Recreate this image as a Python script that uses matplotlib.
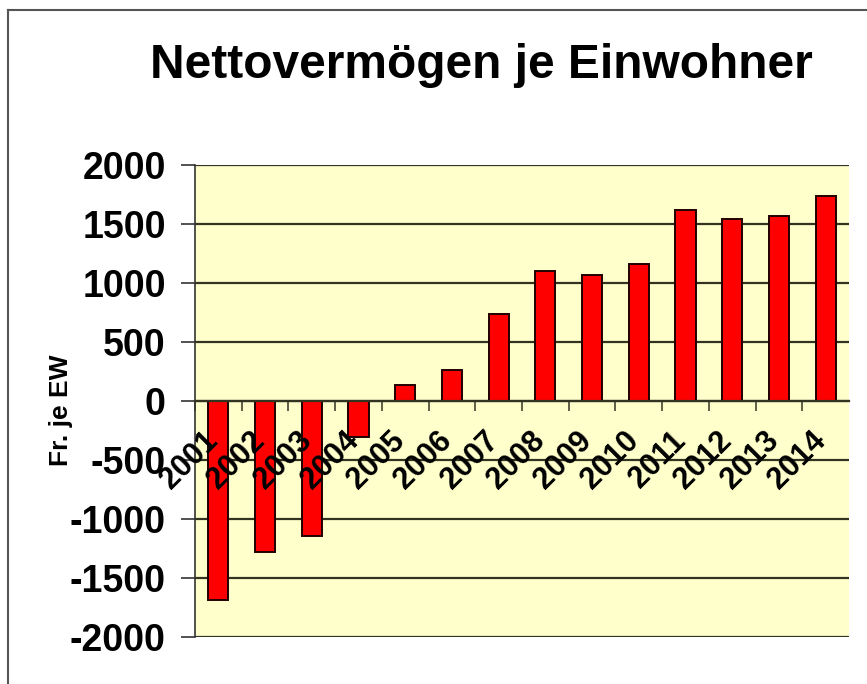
import matplotlib
matplotlib.use("Agg")
import matplotlib.pyplot as plt
import matplotlib.transforms as mtransforms
from matplotlib.lines import Line2D

years = ["2001", "2002", "2003", "2004", "2005", "2006", "2007",
         "2008", "2009", "2010", "2011", "2012", "2013", "2014"]
values = [-1685, -1280, -1140, -305, 135, 265, 740,
          1100, 1070, 1165, 1620, 1540, 1570, 1740]
yticks = [-2000, -1500, -1000, -500, 0, 500, 1000, 1500, 2000]

title = "Nettovermögen je Einwohner"
ylabel = "Fr. je EW"

plt.rcParams['font.family'] = ['Liberation Sans', 'DejaVu Sans']

W, H = 867, 684
fig = plt.figure(figsize=(W / 100, H / 100), dpi=100)
fig.patch.set_facecolor("white")

ax = fig.add_axes([195 / W, 1 - 637 / H, (849 - 195) / W, (637 - 165) / H])
ax.set_facecolor("#FFFFCC")

x = list(range(len(years)))
ax.set_axisbelow(True)
ax.yaxis.grid(True, color="#333322", linewidth=1.6)
ax.bar(x, values, width=0.43, color="#FF0000", edgecolor="#200000",
       linewidth=1.4, zorder=3)

ax.set_xlim(-0.5, len(years) - 0.5)
ax.set_ylim(-2000, 2000)
ax.set_yticks(yticks)
ax.set_yticklabels([str(v) for v in yticks], fontsize=27, fontweight="bold")
ax.tick_params(axis="y", length=10, width=1.2, pad=11, color="#333333")

for s in ["top", "right"]:
    ax.spines[s].set_visible(False)
ax.spines["left"].set_color("#333333")
ax.spines["left"].set_linewidth(1.2)
ax.spines["bottom"].set_position(("data", 0))
ax.spines["bottom"].set_color("#333322")
ax.spines["bottom"].set_linewidth(1.6)
ax.spines["bottom"].set_zorder(4)

# category boundary tick marks on the zero axis
ax.set_xticks([i + 0.5 for i in x[:-1]] + [-0.5])
ax.set_xticklabels([])
ax.tick_params(axis="x", length=7, width=1.2, color="#444433", direction="out")

offset = mtransforms.ScaledTranslation(6 / 100, -25 / 100, fig.dpi_scale_trans)
for xi, lab in zip(x, years):
    ax.text(xi, 0, lab, rotation=45, ha="right", va="top", fontsize=22,
            fontweight="bold", transform=ax.transData + offset, zorder=5)

ax.set_ylabel(ylabel, fontsize=19, fontweight="bold")
ax.yaxis.set_label_coords((73 - 195) / (849 - 195), (637 - 410) / (637 - 165))

fig.text(481 / W, 1 - 66 / H, title, ha="center", va="center",
         fontsize=34.5, fontweight="bold")

# thin frame lines at top and left of the picture
fig.add_artist(Line2D([8 / W, 1], [1 - 10 / H, 1 - 10 / H], color="#555555",
                      linewidth=1.5, transform=fig.transFigure))
fig.add_artist(Line2D([8 / W, 8 / W], [0, 1 - 10 / H], color="#555555",
                      linewidth=1.5, transform=fig.transFigure))

fig.savefig("out.png", dpi=100)
